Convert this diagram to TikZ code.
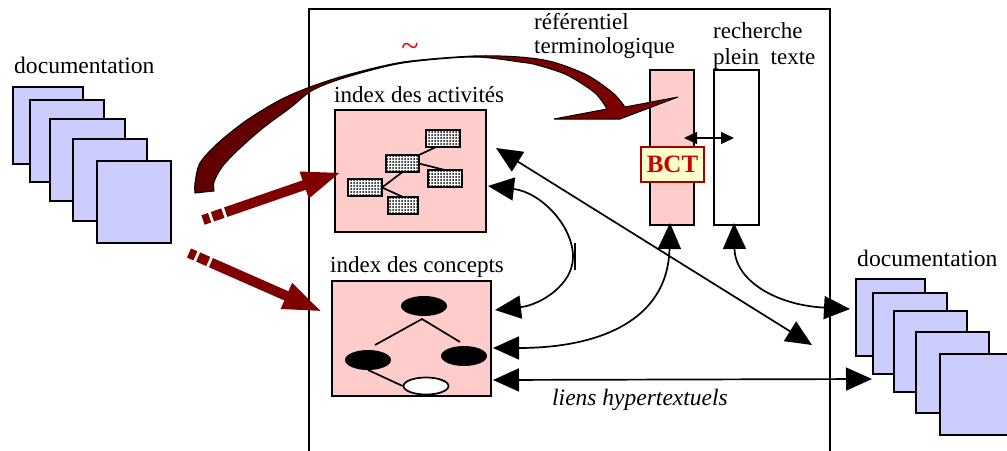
\documentclass[tikz,border=0pt]{standalone}
\usepackage{fontspec}
\setmainfont{Liberation Serif}
\usetikzlibrary{arrows.meta,patterns,shapes.geometric}
\definecolor{pagefill}{HTML}{CCCCFF}
\definecolor{pinkfill}{HTML}{FFCCCC}
\definecolor{maroonfill}{HTML}{800000}
\definecolor{maroondark}{HTML}{600000}
\definecolor{bctred}{HTML}{CC0000}
\definecolor{bctfill}{HTML}{FFFFCC}
\pgfdeclarepatternformonly{boxdots}{\pgfqpoint{-1.5pt}{-1.5pt}}{\pgfqpoint{1.5pt}{1.5pt}}{\pgfqpoint{3pt}{3pt}}{\pgfpathcircle{\pgfqpoint{0pt}{0pt}}{1pt}\pgfusepath{fill}}
\tikzset{
  page/.style={rectangle,draw,line width=1.6pt,fill=pagefill,inner sep=0pt,outer sep=0pt},
  pinkbox/.style={rectangle,draw,line width=1.6pt,fill=pinkfill,inner sep=0pt,outer sep=0pt},
  dotbox/.style={rectangle,draw,line width=1.8pt,preaction={fill=white},pattern=boxdots,inner sep=0pt,outer sep=0pt,minimum height=17pt},
  blob/.style={ellipse,fill=black,inner sep=0pt,outer sep=0pt,minimum width=46pt,minimum height=20pt},
  label/.style={anchor=base west,inner sep=0pt,font=\fontsize{23}{26}\selectfont},
  doclabel/.style={anchor=base west,inner sep=0pt,font=\fontsize{23.6}{26}\selectfont},
  link/.style={line width=1.7pt,{Triangle[length=26pt,width=23pt]}-{Triangle[length=26pt,width=23pt]}},
  bigarrow/.style={line width=10pt,maroonfill,dash pattern=on 7pt off 3pt on 11pt off 3pt on 500pt off 0pt,-{Triangle[length=40pt,width=25pt]}},
}
\begin{document}
\begin{tikzpicture}[x=1pt,y=-1pt]
\useasboundingbox (0,0) rectangle (1007,450);

% cadre
\coordinate (frameSW) at (309,452);
\coordinate (frameNW) at (309,9);
\coordinate (frameNE) at (830,9);
\coordinate (frameSE) at (830,452);
\draw[line width=1.6pt] (frameSW) -- (frameNW) -- (frameNE) -- (frameSE);

% documentation gauche
\node[doclabel] (docleft) at (14,73) {documentation};
\node[page,minimum width=70pt,minimum height=77pt] (l1) at (48,125.5) {};
\node[page,minimum width=74pt,minimum height=82pt] (l2) at (67,141) {};
\node[page,minimum width=75pt,minimum height=82pt] (l3) at (87.5,160) {};
\node[page,minimum width=74pt,minimum height=82pt] (l4) at (110,180) {};
\node[page,minimum width=74pt,minimum height=82pt] (l5) at (134,202) {};

% documentation droite
\node[doclabel] (docright) at (857,266) {documentation};
\node[page,minimum width=69pt,minimum height=77pt] (r1) at (890.5,317.5) {};
\node[page,minimum width=74pt,minimum height=81pt] (r2) at (910,333.5) {};
\node[page,minimum width=73pt,minimum height=81pt] (r3) at (930.5,351.5) {};
\node[page,minimum width=73pt,minimum height=81pt] (r4) at (952.5,372.5) {};
\node[page,minimum width=74pt,minimum height=81pt] (r5) at (977,394.5) {};

% index des activites
\node[label] (activites) at (334,102) {index des activit\'es};
\node[pinkbox,minimum width=151pt,minimum height=122pt] (actbox) at (410.5,171) {};
\node[dotbox,minimum width=34pt] (a) at (443,138.5) {};
\node[dotbox,minimum width=33pt] (b) at (402.5,163.5) {};
\node[dotbox,minimum width=34pt] (c) at (445,178.5) {};
\node[dotbox,minimum width=34pt] (d) at (365,187.5) {};
\node[dotbox,minimum width=30pt] (e) at (403,205.5) {};
\draw[line width=1.7pt] (a.south) ++(-7,0) -- (b.north east);
\draw[line width=1.7pt] (b.east) -- (c.north);
\draw[line width=1.7pt] (b.south) -- (d.east);
\draw[line width=1.7pt] (d.east) -- (e.north);

% index des concepts
\node[label] (concepts) at (330,272) {index des concepts};
\node[pinkbox,minimum width=159pt,minimum height=115pt] (conbox) at (411.5,338.5) {};
\node[blob] (top) at (424,306) {};
\node[blob] (left) at (368,360) {};
\node[blob] (right) at (464,356) {};
\coordinate (apex) at (422,319);
\coordinate (leftend) at (375,345);
\coordinate (rightend) at (460,342);
\draw[line width=1.7pt] (leftend) -- (apex) -- (rightend);
\node[ellipse,draw,line width=1.7pt,fill=white,inner sep=0pt,minimum width=45pt,minimum height=17pt] (leaf) at (426,386) {};
\draw[line width=1.7pt] (left.south) -- (leaf.west);

% referentiel et recherche
\node[label] (referentiel) at (534,29) {r\'ef\'erentiel};
\node[label] (terminologique) at (534,53) {terminologique};
\node[label] (recherche) at (713,38) {recherche};
\node[label] (plein) at (713,64) {plein\ \ texte};
\node[pinkbox,minimum width=44pt,minimum height=155pt] (refbar) at (672,147.5) {};
\node[rectangle,draw,line width=1.6pt,fill=white,inner sep=0pt,outer sep=0pt,minimum width=45pt,minimum height=155pt] (fullbar) at (736.5,147.5) {};

% fleche courbe
\draw[left color=maroondark,right color=maroonfill,line width=1pt] plot[smooth] coordinates {(195,193) (195,183) (200,163) (218,143) (247,120) (280,100) (310,87) (347,75) (403,62) (473,56) (520,57) (553,62) (587,75) (613,93) (625,107)}
  -- (678,97) -- (620,119) -- (554,119) -- (607,109)
  -- plot[smooth] coordinates {(607,109) (595,93) (567,75) (537,65) (520,62) (473,57) (403,63) (347,77) (313,90) (290,108) (263,128) (238,150) (222,167) (214,182) (214,191)} -- cycle;
\node[text=red,font=\fontsize{32}{36}\selectfont,inner sep=0pt] (tilde) at (410,50) {\textasciitilde};

\node[rectangle,draw=bctred!80!black,line width=1.5pt,fill=bctfill,text=bctred,inner sep=0pt,minimum width=63pt,minimum height=35pt,font=\fontsize{25}{28}\selectfont\bfseries] (bct) at (672.5,164.5) {BCT};

% fleches epaisses
\coordinate (tail1) at (203,220);
\coordinate (tip1) at (342,172);
\coordinate (tail2) at (189,253);
\coordinate (tip2) at (323,312);
\draw[bigarrow] (tail1) -- (tip1);
\draw[bigarrow] (tail2) -- (tip2);

% liens
\coordinate (act1) at (488,186);
\coordinate (act2) at (496,148);
\coordinate (mid) at (573,257);
\coordinate (con1) at (495,310);
\coordinate (con2) at (493,348);
\coordinate (con3) at (493,380);
\coordinate (free) at (812,345);
\coordinate (refS) at (670,223);
\coordinate (fullS) at (734,223);
\coordinate (docA) at (850,309);
\coordinate (docB) at (872,379);
\coordinate (tickN) at (575,243);
\coordinate (tickS) at (575,270);
\coordinate (refE) at (684,138);
\coordinate (fullW) at (734,138);
\draw[link] (act1) .. controls (540,192) and (573,225) .. (mid) .. controls (573,285) and (540,305) .. (con1);
\draw[line width=1.7pt] (tickN) -- (tickS);
\draw[link] (refS) .. controls (668,320) and (600,348) .. (con2);
\draw[link] (con3) -- (docB);
\draw[link] (act2) -- (free);
\draw[link] (fullS) .. controls (735,280) and (775,305) .. (docA);
\draw[line width=1.5pt,{Triangle[length=13pt,width=12pt]}-{Triangle[length=13pt,width=12pt]}] (refE) -- (fullW);

\node[label,font=\fontsize{23.5}{26}\selectfont\itshape] (liens) at (552,405) {liens hypertextuels};
\end{tikzpicture}
\end{document}
